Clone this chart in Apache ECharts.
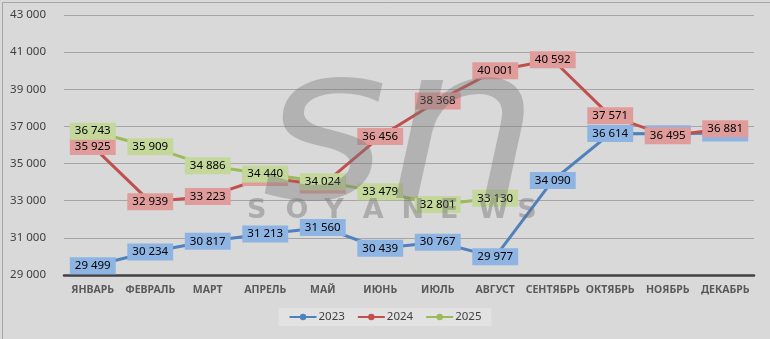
<!DOCTYPE html>
<html><head><meta charset="utf-8">
<script src="https://cdn.jsdelivr.net/npm/echarts@6/dist/echarts.min.js"></script>
<style>html,body{margin:0;padding:0;background:#d9d9d9}#c{width:770px;height:339px}</style>
</head><body><div id="c"></div>
<script>
const categories = ['ЯНВАРЬ','ФЕВРАЛЬ','МАРТ','АПРЕЛЬ','МАЙ','ИЮНЬ','ИЮЛЬ','АВГУСТ','СЕНТЯБРЬ','ОКТЯБРЬ','НОЯБРЬ','ДЕКАБРЬ'];
const values2023 = [29499,30234,30817,31213,31560,30439,30767,29977,34090,36614,36600,36650];
const values2024 = [35925,32939,33223,34250,33850,36456,38368,40001,40592,37571,36495,36881];
const values2025 = [36743,35909,34886,34440,34024,33479,32801,33130];
const seriesNames = ['2023','2024','2025'];
const lineColors = ['#4f81bd','#c0504d','#9bbb59'];
const labelColors = ['#8db4e2','#e09c9b','#c4d89b'];
const watermarkLetters = ['S','O','Y','A','N','E','W','S'];

const fmt = v => String(v).replace(/\B(?=(\d{3})+(?!\d))/g,' ');
const chart = echarts.init(document.getElementById('c'));
const allData = [values2023, values2024, values2025];

const series = allData.map((d,i)=>({
  name: seriesNames[i], type:'line', data:d,
  symbol:'circle', symbolSize:12, showSymbol:true,
  lineStyle:{color:lineColors[i], width:3},
  itemStyle:{color:lineColors[i]},
  label:{show:true, position:'inside', formatter:p=>fmt(p.value),
    backgroundColor:labelColors[i], color:'#000', padding:[2,5,1,5],
    fontFamily:'Noto Sans', fontSize:11.5, lineHeight:14},
  emphasis:{disabled:true},
  animation:false, z: 2+i
}));

const wm = [];
wm.push({type:'text', left:262, top:35, scaleX:1.12, z:100, silent:true,
  style:{text:'sn', font:'italic 215px "DejaVu Sans"', fill:'rgba(120,120,120,0.40)'}});
watermarkLetters.forEach((ch,k)=>{
  wm.push({type:'text', left:247+k*38.6, top:197, z:100, silent:true,
    style:{text:ch, font:'bold 27px "DejaVu Sans"', fill:'rgba(110,110,110,0.42)'}});
});
wm.push({type:'rect', left:0, top:0, z:101, silent:true,
  shape:{x:0.5,y:0.5,width:769,height:337},
  style:{fill:null, stroke:'#a6a6a6', lineWidth:1}});

chart.setOption({
  backgroundColor:'#d9d9d9',
  animation:false,
  textStyle:{fontFamily:'Noto Sans'},
  grid:{left:64, right:16, top:15, bottom:64},
  legend:{data:seriesNames, top:308, left:'center', itemWidth:27, itemHeight:8, itemGap:12,
    backgroundColor:'#e2e2e2', padding:[3,10,3,10],
    textStyle:{color:'#404040', fontSize:11.5, fontFamily:'Noto Sans', padding:[0,0,0,-3]}},
  xAxis:{type:'category', data:categories, boundaryGap:true,
    axisTick:{show:false},
    axisLine:{lineStyle:{color:'#404040', width:2.5}},
    axisLabel:{color:'#595959', fontWeight:'bold', fontSize:10.5, margin:10, interval:0, fontFamily:'Noto Sans'}},
  yAxis:{type:'value', min:29000, max:43000, interval:2000,
    axisLine:{show:false}, axisTick:{show:false},
    splitLine:{lineStyle:{color:'#a6a6a6', width:1}},
    axisLabel:{color:'#404040', fontSize:11.5, margin:18, formatter:v=>fmt(v), fontFamily:'Noto Sans'}},
  graphic: wm,
  series: series
});
</script></body></html>
